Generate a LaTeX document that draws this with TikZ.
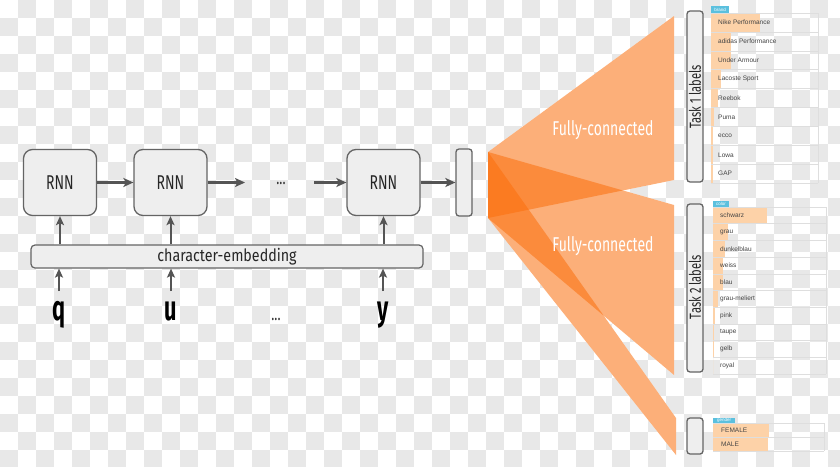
\documentclass[tikz,border=0pt]{standalone}
\usepackage{fontspec}
\setmainfont{Liberation Sans}
\newfontfamily\condfont[FakeStretch=0.70]{Fira Sans}
\newfontfamily\embfont[FakeStretch=0.84]{Fira Sans}
\newfontfamily\boldcond[FakeStretch=0.62]{Fira Sans Bold}
\usetikzlibrary{arrows.meta}
\definecolor{chk}{RGB}{232,232,232}
\definecolor{boxfill}{RGB}{238,238,238}
\definecolor{boxline}{RGB}{100,100,100}
\definecolor{arrcol}{RGB}{85,85,85}
\definecolor{fancol}{RGB}{251,110,11}
\definecolor{barcol}{RGB}{253,210,168}
\definecolor{tagcol}{RGB}{91,192,222}
\definecolor{rowline}{RGB}{222,222,222}
\definecolor{txtcol}{RGB}{68,68,68}
\begin{document}
\begin{tikzpicture}[x=1pt,y=-1pt,
  rnn/.style={draw=boxline, fill=boxfill, line width=1.3pt, rounded corners=9pt,
    minimum width=73pt, minimum height=66pt, inner sep=0pt,
    font=\condfont\fontsize{20}{20}\selectfont, text=black!85},
  slim/.style={draw=boxline, fill=boxfill, line width=1.3pt, rounded corners=3pt,
    minimum width=16pt, inner sep=0pt},
  arr/.style={draw=arrcol, line width=2.1pt, -{Stealth[length=10pt,width=9pt,inset=2.5pt]}},
  uparr/.style={draw=arrcol, line width=2pt, -{Stealth[length=9pt,width=8pt,inset=2pt]}},
  letter/.style={inner sep=0pt, font=\boldcond\fontsize{35}{35}\selectfont, text=black},
  dots/.style={inner sep=0pt, font=\condfont\fontsize{18}{18}\selectfont, text=black!80},
  fan/.style={fill=fancol, fill opacity=0.55},
  fctext/.style={text=white, font=\condfont\fontsize{20}{20}\selectfont, inner sep=0pt},
  tasktext/.style={rotate=90, font=\condfont\fontsize{16}{16}\selectfont, text=black!85, inner sep=0pt},
  rowtext/.style={anchor=west, inner sep=0pt, font=\fontsize{6.5}{6.5}\selectfont, text=txtcol},
  tag/.style={fill=tagcol, text=white, inner sep=0pt, font=\fontsize{4.5}{4.5}\selectfont},
  rowrule/.style={draw=rowline, line width=0.6pt},
]
\useasboundingbox (0,0) rectangle (840,466);
% transparency checkerboard background
\begin{scope}
\clip (0,0) rectangle (840,466);
\fill[white] (0,0) rectangle (840,466);
\foreach \c in {0,...,46} {
  \foreach \r in {0,...,25} {
    \pgfmathtruncatemacro{\chkp}{mod(\c+\r,2)}
    \ifnum\chkp=1 \fill[chk] (\c*18,\r*18) rectangle ++(18,18); \fi
  }
}
\end{scope}

% RNN chain
\node[rnn] (r1) at (60,182.5) {RNN};
\node[rnn] (r2) at (170.5,182.5) {RNN};
\node[rnn] (r3) at (383.5,182.5) {RNN};
\node[slim, minimum height=67pt] (h) at (464,182.5) {};
\node[dots] (d1) at (281,183) {...};
\coordinate (a2) at (245,182.5);
\coordinate (a3) at (314,182.5);
\draw[arr] (r1.east) -- (r2.west);
\draw[arr] (r2.east) -- (a2);
\draw[arr] (a3) -- (r3.west);
\draw[arr] (r3.east) -- (h.west);

% embedding
\node[draw=boxline, fill=boxfill, line width=1.2pt, rounded corners=4pt,
  minimum width=392pt, minimum height=23pt, inner sep=0pt,
  font=\embfont\fontsize{17}{17}\selectfont, text=black!85] (emb) at (227,256.5) {character-embedding};
\foreach \n in {r1,r2,r3} { \draw[uparr] (emb.north -| \n) -- (\n.south); }

% inputs
\node[letter, anchor=base] (q) at (59,320) {q};
\node[letter, anchor=base] (u) at (171,320) {u};
\node[dots, anchor=base] (d2) at (276,320) {...};
\node[letter, anchor=base] (y) at (383,320) {y};
\draw[uparr] (59,291) -- (emb.south -| q);
\draw[uparr] (171,291) -- (emb.south -| u);
\draw[uparr] (383,291) -- (emb.south -| y);

% fully-connected fans
\coordinate (s1) at (488,152);
\coordinate (s2) at (488,218);
\coordinate (f1a) at (674,16);
\coordinate (f1b) at (674,180);
\coordinate (f2a) at (674,205);
\coordinate (f2b) at (674,375);
\coordinate (f3a) at (676,418);
\coordinate (f3b) at (676,455);
\fill[white] (s1) -- (f1a) -- (f1b) -- (s2) -- cycle;
\fill[white] (s1) -- (f2a) -- (f2b) -- (s2) -- cycle;
\fill[white] (s1) -- (f3a) -- (f3b) -- (s2) -- cycle;
\fill[fan] (s1) -- (f1a) -- (f1b) -- (s2) -- cycle;
\fill[fan] (s1) -- (f2a) -- (f2b) -- (s2) -- cycle;
\fill[fan] (s1) -- (f3a) -- (f3b) -- (s2) -- cycle;
\node[fctext] (fc1) at (603,130) {Fully-connected};
\node[fctext] (fc2) at (603,246) {Fully-connected};

% task boxes
\node[slim, minimum height=171pt] (t1) at (695,96.5) {};
\node[tasktext] (t1l) at (695,97) {Task 1 labels};
\node[slim, minimum height=168pt] (t2) at (695,288) {};
\node[tasktext] (t2l) at (695,287) {Task 2 labels};
\node[slim, minimum height=36pt] (t3) at (695,436) {};

% table 1: brand
\foreach \lab/\w [count=\i from 0] in {Nike Performance/49, adidas Performance/20, Under Armour/20,
    Lacoste Sport/10, Reebok/7, Puma/3, ecco/2, Lowa/2, GAP/2} {
  \fill[barcol] (711,13+\i*18.9) rectangle ++(\w,18.9);
  \draw[rowrule] (711,13+\i*18.9) -- ++(107,0);
  \node[rowtext] (b\i) at (718,22.5+\i*18.9) {\lab};
}
\draw[rowrule] (711,183) -- (818,183);
\draw[rowrule] (818,13) -- (818,183);
\node[tag, minimum width=18pt, minimum height=7pt] (tag1) at (720,9.5) {brand};

% table 2: color
\foreach \lab/\w [count=\i from 0] in {schwarz/54, grau/15, dunkelblau/12, weiss/10, blau/10,
    grau-meliert/5, pink/2, taupe/1, gelb/0.6, royal/0} {
  \fill[barcol] (713,207+\i*16.7) rectangle ++(\w,16.7);
  \draw[rowrule] (713,207+\i*16.7) -- ++(113,0);
  \node[rowtext] (c\i) at (720,215.4+\i*16.7) {\lab};
}
\draw[rowrule] (713,374) -- (826,374);
\draw[rowrule] (826,207) -- (826,374);
\node[tag, minimum width=16pt, minimum height=6pt] (tag2) at (721,204) {color};

% table 3: gender
\foreach \lab/\w [count=\i from 0] in {FEMALE/56, MALE/55} {
  \fill[barcol] (713,423+\i*14) rectangle ++(\w,14);
  \draw[rowrule] (713,423+\i*14) -- ++(111,0);
  \node[rowtext] (g\i) at (721,430+\i*14) {\lab};
}
\draw[rowrule] (713,451) -- (824,451);
\draw[rowrule] (824,423) -- (824,451);
\node[tag, minimum width=22pt, minimum height=5pt] (tag3) at (724,420) {gender};
\end{tikzpicture}
\end{document}
